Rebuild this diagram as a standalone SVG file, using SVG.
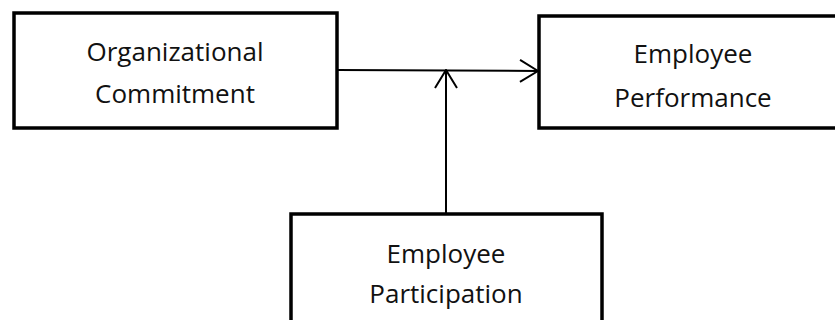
<svg xmlns="http://www.w3.org/2000/svg" width="835" height="320" viewBox="0 0 835 320">
<style>
.box{fill:#fff;stroke:#000;stroke-width:3.5}
.t{font-family:"Open Sans","Liberation Sans",sans-serif;font-size:26px;fill:#111;text-anchor:middle}
.c{stroke:#000;stroke-width:2;fill:none}
</style>
<defs>
<marker id="open" viewBox="0 0 20 24" refX="19" refY="12" markerWidth="20" markerHeight="24" markerUnits="userSpaceOnUse" orient="auto">
<path d="M1,1 L19,12 L1,23" fill="none" stroke="#000" stroke-width="2"/>
</marker>
</defs>
<rect width="835" height="320" fill="#fff"/>
<g id="org-commitment">
<rect class="box" x="14" y="13" width="323" height="115"/>
<text class="t" x="175" y="61">Organizational</text>
<text class="t" x="175" y="103">Commitment</text>
</g>
<g id="emp-performance">
<rect class="box" x="539" y="16" width="300" height="112"/>
<text class="t" x="693" y="63">Employee</text>
<text class="t" x="693" y="107">Performance</text>
</g>
<g id="emp-participation">
<rect class="box" x="291" y="214" width="311" height="120"/>
<text class="t" x="446" y="263">Employee</text>
<text class="t" x="446" y="303">Participation</text>
</g>
<g id="connectors">
<line class="c" x1="337" y1="70" x2="538" y2="71" marker-end="url(#open)"/>
<line class="c" x1="446" y1="213" x2="446" y2="70" marker-end="url(#open)"/>
</g>
</svg>
